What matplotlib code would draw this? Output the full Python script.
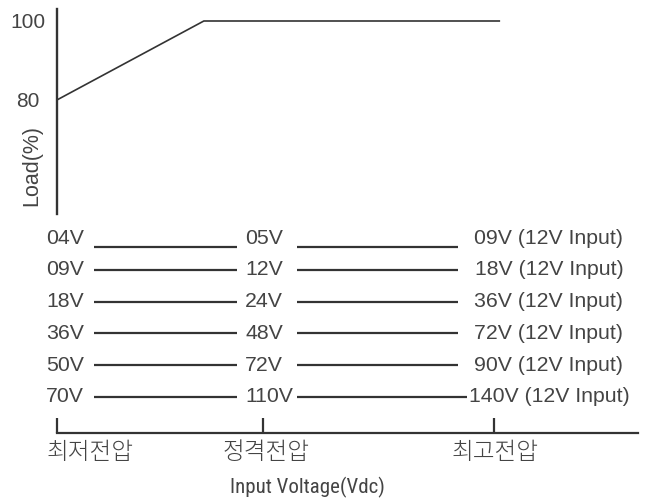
import matplotlib
matplotlib.use("Agg")
import matplotlib.pyplot as plt
from matplotlib import font_manager as fm
import matplotlib.transforms as mtransforms

# ---- data ----
load_x = [0.0, 0.336, 1.014]          # position along input-voltage axis (min=0, max=1)
load_y = [80, 100, 100]                # load %
y_ticks = [80, 100]
y_tick_labels = ["80", "100"]

min_voltages = ["04V", "09V", "18V", "36V", "50V", "70V"]
rated_voltages = ["05V", "12V", "24V", "48V", "72V", "110V"]
max_voltages = ["09V (12V Input)", "18V (12V Input)", "36V (12V Input)",
                "72V (12V Input)", "90V (12V Input)", "140V (12V Input)"]

x_ticks = [0.0, 0.471, 1.0]
x_tick_labels = ["최저전압", "정격전압", "최고전압"]
x_label = "Input Voltage(Vdc)"
y_label = "Load(%)"

# ---- style ----
TXT = "#444444"
LN = "#333333"
W, H = 645, 500
names = {f.name for f in fm.fontManager.ttflist}
cond = "Roboto Condensed" if "Roboto Condensed" in names else "Liberation Sans"
title_size = 15 if cond == "Roboto Condensed" else 13.5
latin = ["Liberation Sans", "DejaVu Sans"]
kor_name = "Noto Sans CJK KR" if "Noto Sans CJK KR" in names else "Noto Sans CJK JP"
kor = [kor_name, "DejaVu Sans"]

fig = plt.figure(figsize=(W / 100, H / 100), dpi=100)

def px_axes(left, right, top, bottom):
    return fig.add_axes([left / W, 1 - bottom / H, (right - left) / W, (bottom - top) / H])

x_per_unit = 437.0
x_max = (645 - 57) / x_per_unit

# ---- top chart ----
ax = px_axes(57, 645, 9, 214)
ax.plot(load_x, load_y, color=LN, lw=1.2, solid_capstyle="butt")
ax.set_xlim(0, x_max)
ax.set_ylim(51.1, 103.04)
for s in ["top", "right", "bottom"]:
    ax.spines[s].set_visible(False)
ax.spines["left"].set_linewidth(1.7)
ax.spines["left"].set_color(LN)
ax.set_xticks([])
ax.set_yticks(y_ticks)
ax.set_yticklabels(y_tick_labels, fontsize=15, color=TXT, family=latin, ha="center")
ax.tick_params(axis="y", length=0, pad=21)
ax.set_ylabel(y_label, fontsize=15.5, color=TXT, family=latin)
ax.yaxis.set_label_coords((42 - 57) / 588, (214 - 166) / 205)
ax.patch.set_alpha(0)

# ---- lower "table" + voltage axis ----
ax2 = px_axes(57, 645, 220, 433)
row_pitch = 31.8
ax2.set_xlim(0, x_max)
ax2.set_ylim((433 - 238) / row_pitch, (220 - 238) / row_pitch)
for s in ["top", "right", "left"]:
    ax2.spines[s].set_visible(False)
ax2.spines["bottom"].set_linewidth(1.6)
ax2.spines["bottom"].set_color(LN)
ax2.spines["bottom"].set_bounds(0, (638 - 57) / x_per_unit)
ax2.set_yticks([])
ax2.set_xticks(x_ticks)
ax2.set_xticklabels(x_tick_labels, fontsize=17, color=TXT, family=kor, fontweight=300)
ax2.tick_params(axis="x", direction="in", length=11, width=1.6, color=LN, pad=5)
offs = [33, 3, 1]
for lab, o in zip(ax2.get_xticklabels(), offs):
    lab.set_transform(lab.get_transform() + mtransforms.ScaledTranslation(o / 100, 0, fig.dpi_scale_trans))

col1_x = (46 - 57) / x_per_unit
col2_x = (245 - 57) / x_per_unit
col3_x = (549 - 57) / x_per_unit
seg1 = ((94 - 57) / x_per_unit, (237 - 57) / x_per_unit)
seg2_start = (297 - 57) / x_per_unit
seg2_end = [(458 - 57) / x_per_unit] * 5 + [(467 - 57) / x_per_unit]
line_off = [9 / row_pitch, 0, 0, 0, 0, 0]

for i in range(len(min_voltages)):
    ax2.text(col1_x, i, min_voltages[i], ha="left", va="center", fontsize=15.3, color=TXT, family=latin)
    ax2.text(col2_x, i, rated_voltages[i], ha="left", va="center", fontsize=15.3, color=TXT, family=latin)
    ax2.text(col3_x, i, max_voltages[i], ha="center", va="center", fontsize=15.3, color=TXT, family=latin)
    yl = i + line_off[i]
    ax2.plot(seg1, [yl, yl], color=LN, lw=1.6, solid_capstyle="butt")
    ax2.plot([seg2_start, seg2_end[i]], [yl, yl], color=LN, lw=1.6, solid_capstyle="butt")
ax2.patch.set_alpha(0)

fig.text(307 / W, 1 - 487 / H, x_label, ha="center", va="center",
         fontsize=title_size, color=TXT, family=[cond, "DejaVu Sans"])

fig.savefig("out.png", dpi=100)
